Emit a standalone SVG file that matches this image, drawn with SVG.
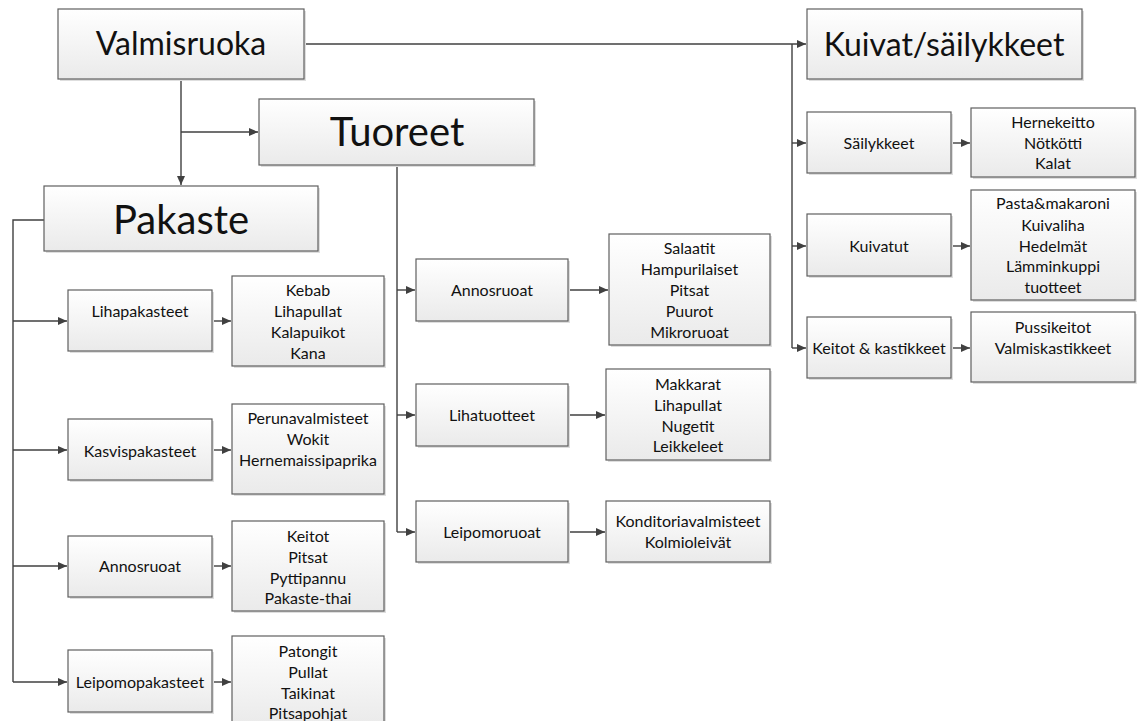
<svg xmlns="http://www.w3.org/2000/svg" width="1141" height="721" viewBox="0 0 1141 721">
<defs>
<linearGradient id="g" x1="0" y1="0" x2="0" y2="1">
<stop offset="0" stop-color="#ffffff"/>
<stop offset="1" stop-color="#eaeaea"/>
</linearGradient>
<marker id="a" markerUnits="userSpaceOnUse" markerWidth="10" markerHeight="8" refX="9" refY="4" orient="auto">
<path d="M0,0 L9,4 L0,8 z" fill="#404040"/>
</marker>
</defs>
<style>
.b{fill:url(#g);stroke:#5f5f5f;stroke-width:1.2}
.s{fill:#dedede;stroke:none}
text{font-family:Lato,"Liberation Sans",sans-serif;fill:#111;text-anchor:middle}
.t{font-size:16px}
.m{font-size:32px}
.l{font-size:40px}
.c{fill:none;stroke:#404040;stroke-width:1.4}
.c.ar{marker-end:url(#a)}
</style>
<rect width="1141" height="721" fill="#fff"/>
<g id="connectors">
<path class="c ar" d="M304,44 H806"/>
<path class="c" d="M792,44 V348"/>
<path class="c ar" d="M792,143 H806"/>
<path class="c ar" d="M792,246 H806"/>
<path class="c ar" d="M792,348 H806"/>
<path class="c ar" d="M181,79 V185"/>
<path class="c ar" d="M181,132 H258"/>
<path class="c" d="M397,165 V532"/>
<path class="c ar" d="M397,290 H415"/>
<path class="c ar" d="M397,415 H415"/>
<path class="c ar" d="M397,532 H415"/>
<path class="c" d="M44,220 H13 V682"/>
<path class="c ar" d="M13,321 H67"/>
<path class="c ar" d="M13,450 H67"/>
<path class="c ar" d="M13,566 H67"/>
<path class="c ar" d="M13,682 H67"/>
<path class="c ar" d="M212,321 H231"/>
<path class="c ar" d="M212,450 H231"/>
<path class="c ar" d="M212,566 H231"/>
<path class="c ar" d="M212,682 H231"/>
<path class="c ar" d="M568,290 H608"/>
<path class="c ar" d="M568,415 H605"/>
<path class="c ar" d="M568,532 H605"/>
<path class="c ar" d="M951,143 H970"/>
<path class="c ar" d="M951,246 H970"/>
<path class="c ar" d="M951,348 H970"/>
</g>
<g id="valmisruoka"><rect class="s" x="60" y="11" width="246" height="70"/><rect class="b" x="58" y="9" width="246" height="70"/><text class="m" x="181" y="55">Valmisruoka</text></g>
<g id="tuoreet"><rect class="s" x="261" y="101" width="275" height="66"/><rect class="b" x="259" y="99" width="275" height="66"/><text class="l" x="397" y="146">Tuoreet</text></g>
<g id="pakaste"><rect class="s" x="46" y="188" width="274" height="65"/><rect class="b" x="44" y="186" width="274" height="65"/><text class="l" x="181" y="234">Pakaste</text></g>
<g id="kuivat"><rect class="s" x="809" y="11" width="275" height="70"/><rect class="b" x="807" y="9" width="275" height="70"/><text class="m" x="944" y="56">Kuivat/säilykkeet</text></g>

<g id="lihapakasteet"><rect class="s" x="70" y="292" width="144" height="61"/><rect class="b" x="68" y="290" width="144" height="61"/><text class="t" x="140" y="317">Lihapakasteet</text></g>
<g id="lihapakasteet-list"><rect class="s" x="234" y="278" width="152" height="90"/><rect class="b" x="232" y="276" width="152" height="90"/><text class="t" x="308" y="296">Kebab</text><text class="t" x="308" y="317">Lihapullat</text><text class="t" x="308" y="338">Kalapuikot</text><text class="t" x="308" y="359">Kana</text></g>
<g id="kasvispakasteet"><rect class="s" x="70" y="421" width="144" height="61"/><rect class="b" x="68" y="419" width="144" height="61"/><text class="t" x="140" y="457">Kasvispakasteet</text></g>
<g id="kasvispakasteet-list"><rect class="s" x="234" y="406" width="152" height="90"/><rect class="b" x="232" y="404" width="152" height="90"/><text class="t" x="308" y="424">Perunavalmisteet</text><text class="t" x="308" y="445">Wokit</text><text class="t" x="308" y="466">Hernemaissipaprika</text></g>
<g id="annosruoat-p"><rect class="s" x="70" y="538" width="144" height="61"/><rect class="b" x="68" y="536" width="144" height="61"/><text class="t" x="140" y="572">Annosruoat</text></g>
<g id="annosruoat-p-list"><rect class="s" x="234" y="523" width="152" height="90"/><rect class="b" x="232" y="521" width="152" height="90"/><text class="t" x="308" y="542">Keitot</text><text class="t" x="308" y="563">Pitsat</text><text class="t" x="308" y="584">Pyttipannu</text><text class="t" x="308" y="604">Pakaste-thai</text></g>
<g id="leipomopakasteet"><rect class="s" x="70" y="652" width="144" height="62"/><rect class="b" x="68" y="650" width="144" height="62"/><text class="t" x="140" y="688">Leipomopakasteet</text></g>
<g id="leipomopakasteet-list"><rect class="s" x="234" y="638" width="152" height="90"/><rect class="b" x="232" y="636" width="152" height="90"/><text class="t" x="308" y="657">Patongit</text><text class="t" x="308" y="678">Pullat</text><text class="t" x="308" y="699">Taikinat</text><text class="t" x="308" y="719">Pitsapohjat</text></g>

<g id="annosruoat-t"><rect class="s" x="418" y="261" width="152" height="62"/><rect class="b" x="416" y="259" width="152" height="62"/><text class="t" x="492" y="296">Annosruoat</text></g>
<g id="annosruoat-t-list"><rect class="s" x="611" y="236" width="161" height="111"/><rect class="b" x="609" y="234" width="161" height="111"/><text class="t" x="689.5" y="254">Salaatit</text><text class="t" x="689.5" y="275">Hampurilaiset</text><text class="t" x="689.5" y="296">Pitsat</text><text class="t" x="689.5" y="317">Puurot</text><text class="t" x="689.5" y="338">Mikroruoat</text></g>
<g id="lihatuotteet"><rect class="s" x="418" y="386" width="152" height="62"/><rect class="b" x="416" y="384" width="152" height="62"/><text class="t" x="492" y="421">Lihatuotteet</text></g>
<g id="lihatuotteet-list"><rect class="s" x="608" y="371" width="164" height="91"/><rect class="b" x="606" y="369" width="164" height="91"/><text class="t" x="688" y="390">Makkarat</text><text class="t" x="688" y="411">Lihapullat</text><text class="t" x="688" y="432">Nugetit</text><text class="t" x="688" y="452">Leikkeleet</text></g>
<g id="leipomoruoat"><rect class="s" x="418" y="503" width="152" height="61"/><rect class="b" x="416" y="501" width="152" height="61"/><text class="t" x="492" y="538">Leipomoruoat</text></g>
<g id="leipomoruoat-list"><rect class="s" x="608" y="503" width="164" height="61"/><rect class="b" x="606" y="501" width="164" height="61"/><text class="t" x="688" y="527">Konditoriavalmisteet</text><text class="t" x="688" y="548">Kolmioleivät</text></g>

<g id="sailykkeet"><rect class="s" x="809" y="114" width="144" height="61"/><rect class="b" x="807" y="112" width="144" height="61"/><text class="t" x="879" y="149">Säilykkeet</text></g>
<g id="sailykkeet-list"><rect class="s" x="973" y="110" width="164" height="69"/><rect class="b" x="971" y="108" width="164" height="69"/><text class="t" x="1053" y="128">Hernekeitto</text><text class="t" x="1053" y="149">Nötkötti</text><text class="t" x="1053" y="169">Kalat</text></g>
<g id="kuivatut"><rect class="s" x="809" y="216" width="144" height="62"/><rect class="b" x="807" y="214" width="144" height="62"/><text class="t" x="879" y="252">Kuivatut</text></g>
<g id="kuivatut-list"><rect class="s" x="973" y="192" width="164" height="110"/><rect class="b" x="971" y="190" width="164" height="110"/><text class="t" x="1053" y="209">Pasta&amp;makaroni</text><text class="t" x="1053" y="231">Kuivaliha</text><text class="t" x="1053" y="252">Hedelmät</text><text class="t" x="1053" y="272">Lämminkuppi</text><text class="t" x="1053" y="293">tuotteet</text></g>
<g id="keitot"><rect class="s" x="809" y="319" width="144" height="61"/><rect class="b" x="807" y="317" width="144" height="61"/><text class="t" x="879" y="354">Keitot &amp; kastikkeet</text></g>
<g id="keitot-list"><rect class="s" x="973" y="314" width="164" height="70"/><rect class="b" x="971" y="312" width="164" height="70"/><text class="t" x="1053" y="333">Pussikeitot</text><text class="t" x="1053" y="354">Valmiskastikkeet</text></g>
</svg>
